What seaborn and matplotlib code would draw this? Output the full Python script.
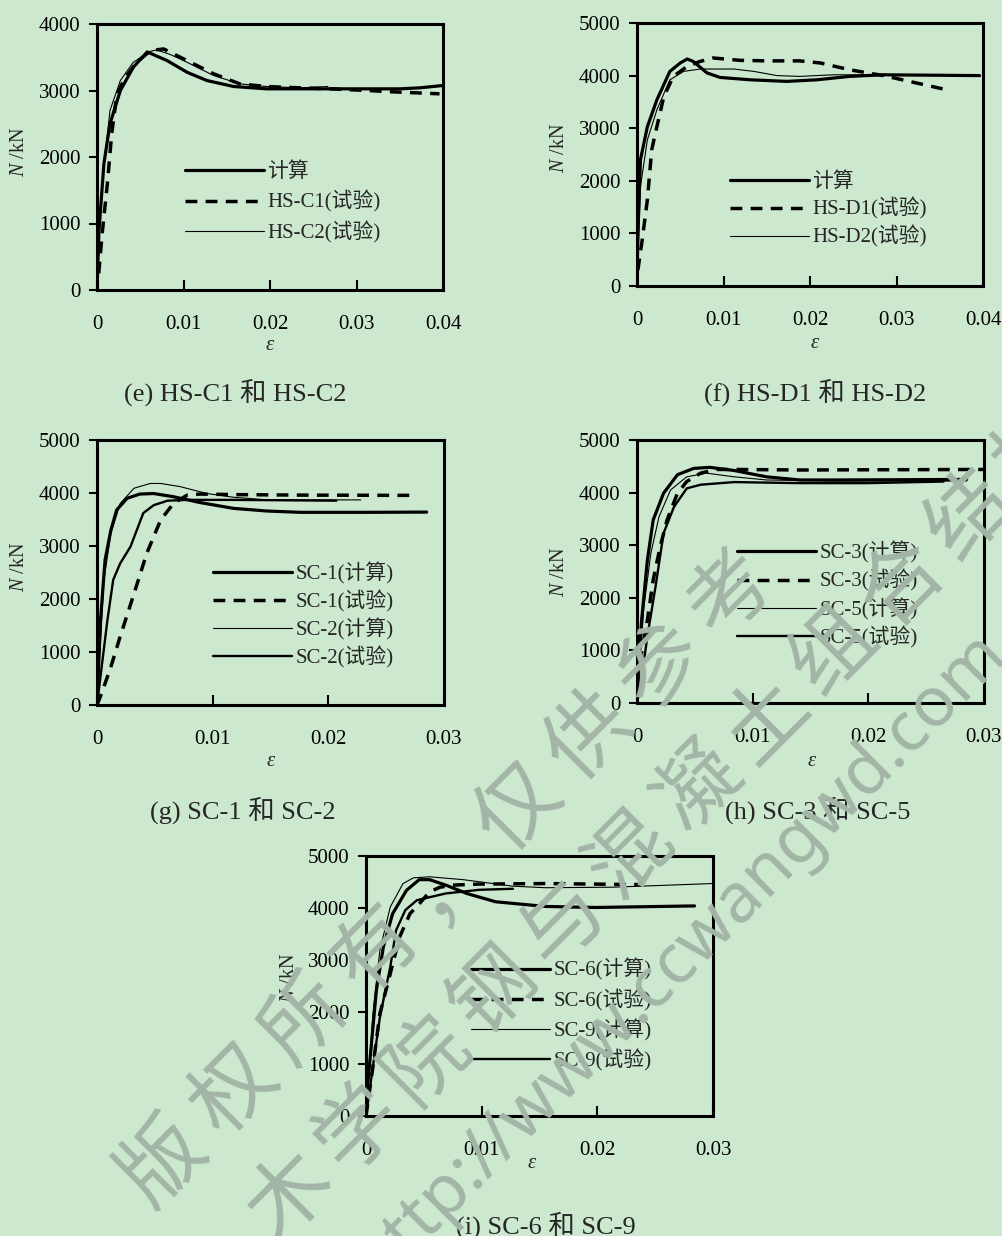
import numpy as np
import pandas as pd
import matplotlib
matplotlib.use("Agg")
import matplotlib.pyplot as plt
import seaborn as sns

sns.set_style("white")
plt.rcParams['font.family'] = ['Liberation Serif', 'Noto Sans CJK SC', 'DejaVu Sans']
plt.rcParams['mathtext.fontset'] = 'custom'
plt.rcParams['mathtext.rm'] = 'Liberation Serif'
plt.rcParams['mathtext.it'] = 'Liberation Serif:italic'

BG = '#CCE8CF'
W, H = 1002, 1236

# ---------------- data ----------------
# (e) HS-C1 / HS-C2
e_calc_x = [0, 0.00023, 0.0008, 0.0015, 0.0027, 0.0042, 0.0058, 0.0081, 0.0104, 0.0127, 0.0158, 0.0196, 0.0235, 0.0273, 0.035, 0.0373, 0.04]
e_calc_y = [0, 900, 1900, 2500, 3000, 3350, 3580, 3450, 3275, 3150, 3060, 3025, 3025, 3025, 3025, 3040, 3075]
e_c1_x = [0.0002, 0.0006, 0.0012, 0.0017, 0.0023, 0.0033, 0.0046, 0.0062, 0.0077, 0.0104, 0.0135, 0.0165, 0.0196, 0.0235, 0.027, 0.0312, 0.035, 0.0396]
e_c1_y = [250, 850, 1600, 2350, 2950, 3200, 3425, 3600, 3625, 3450, 3250, 3100, 3060, 3040, 3025, 3000, 2975, 2950]
e_c2_x = [0, 0.0003, 0.0008, 0.0015, 0.0027, 0.0042, 0.0062, 0.0069, 0.0085, 0.0104, 0.0135, 0.0165, 0.0196, 0.0235, 0.0267]
e_c2_y = [0, 1100, 1850, 2700, 3150, 3425, 3590, 3610, 3540, 3425, 3225, 3100, 3060, 3040, 3060]

# (f) HS-D1 / HS-D2
f_calc_x = [0, 0.0001, 0.0004, 0.0012, 0.0023, 0.0038, 0.005, 0.0058, 0.0065, 0.0081, 0.0096, 0.0131, 0.0173, 0.0208, 0.0246, 0.0285, 0.0396]
f_calc_y = [0, 1000, 2400, 3030, 3540, 4080, 4240, 4315, 4270, 4050, 3965, 3920, 3890, 3920, 3985, 4015, 4000]
f_d1_x = [0.0001, 0.0006, 0.0012, 0.0017, 0.0023, 0.0031, 0.0042, 0.0058, 0.0073, 0.0088, 0.0119, 0.015, 0.0188, 0.0212, 0.0246, 0.0285, 0.0323, 0.0358]
f_d1_y = [300, 875, 1640, 2590, 3030, 3600, 3985, 4175, 4270, 4335, 4290, 4280, 4280, 4240, 4110, 4000, 3860, 3730]
f_d2_x = [0, 0.0004, 0.0012, 0.0023, 0.0038, 0.0054, 0.0073, 0.0112, 0.0135, 0.0162, 0.0188, 0.0227, 0.0265, 0.0285]
f_d2_y = [0, 1890, 2780, 3350, 3920, 4080, 4125, 4125, 4080, 4000, 3985, 4015, 4015, 4015]

# (g) SC-1 / SC-2
g_1c_x = [0, 0.0003, 0.0007, 0.0012, 0.0017, 0.0026, 0.0037, 0.0049, 0.0066, 0.0089, 0.0118, 0.0147, 0.0176, 0.0205, 0.0233, 0.0285]
g_1c_y = [0, 1600, 2740, 3300, 3680, 3900, 3980, 3990, 3930, 3820, 3710, 3660, 3635, 3635, 3635, 3640]
g_1t_x = [0, 0.0004, 0.0012, 0.002, 0.0032, 0.0043, 0.0055, 0.0066, 0.0078, 0.0089, 0.0118, 0.0176, 0.0274]
g_1t_y = [0, 220, 720, 1290, 2100, 2860, 3490, 3800, 3960, 3980, 3970, 3960, 3955]
g_2c_x = [0, 0.0006, 0.0012, 0.002, 0.0032, 0.0046, 0.0055, 0.0072, 0.0095, 0.0118, 0.0147, 0.0228]
g_2c_y = [0, 2360, 3240, 3800, 4090, 4180, 4180, 4120, 3990, 3920, 3870, 3870]
g_2t_x = [0, 0.0009, 0.0014, 0.002, 0.0029, 0.004, 0.0049, 0.0061, 0.0078, 0.0118, 0.0207]
g_2t_y = [0, 1600, 2360, 2670, 2990, 3620, 3770, 3855, 3870, 3870, 3855]

# (h) SC-3 / SC-5
h_3c_x = [0, 0.0001, 0.0004, 0.0009, 0.0014, 0.0023, 0.0035, 0.0049, 0.0063, 0.0084, 0.0112, 0.0141, 0.017, 0.0285]
h_3c_y = [0, 630, 1580, 2720, 3480, 3990, 4340, 4460, 4480, 4420, 4300, 4240, 4240, 4250]
h_3t_x = [0, 0.0001, 0.0004, 0.0009, 0.0014, 0.002, 0.0026, 0.0035, 0.0043, 0.0055, 0.0069, 0.0084, 0.0141, 0.03]
h_3t_y = [0, 440, 950, 1580, 2340, 2970, 3480, 3990, 4210, 4370, 4440, 4440, 4430, 4440]
h_5c_x = [0, 0.0006, 0.0012, 0.0019, 0.0029, 0.0043, 0.006, 0.0084, 0.0112, 0.017, 0.0285]
h_5c_y = [0, 1830, 2850, 3540, 4050, 4300, 4370, 4300, 4240, 4220, 4220]
h_5t_x = [0, 0.0003, 0.0009, 0.0016, 0.0023, 0.0032, 0.0043, 0.0055, 0.0084, 0.0141, 0.0199, 0.0265]
h_5t_y = [0, 320, 1270, 2210, 3230, 3730, 4080, 4150, 4200, 4180, 4180, 4210]

# (i) SC-6 / SC-9
i_6c_x = [0, 0.0001, 0.0005, 0.0009, 0.0015, 0.0023, 0.0035, 0.0046, 0.0055, 0.0069, 0.0087, 0.0112, 0.0155, 0.0198, 0.0284]
i_6c_y = [0, 500, 1460, 2420, 3250, 3890, 4340, 4545, 4545, 4440, 4280, 4120, 4030, 4010, 4040]
i_6t_x = [0, 0.0006, 0.0012, 0.0021, 0.0029, 0.0038, 0.0046, 0.0055, 0.0064, 0.0075, 0.0098, 0.0155, 0.0238]
i_6t_y = [0, 950, 1970, 2740, 3440, 3890, 4080, 4310, 4400, 4440, 4460, 4470, 4450]
i_9c_x = [0, 0.0006, 0.0012, 0.0021, 0.0032, 0.0041, 0.0055, 0.0084, 0.0127, 0.0155, 0.0213, 0.0299]
i_9c_y = [0, 1970, 3190, 4020, 4470, 4580, 4600, 4545, 4420, 4390, 4400, 4470]
i_9t_x = [0, 0.0006, 0.0012, 0.0021, 0.0026, 0.0034, 0.0044, 0.0069, 0.0098, 0.0127]
i_9t_y = [0, 950, 1900, 2870, 3570, 3960, 4150, 4280, 4350, 4370]

xticks_4 = [0, 0.01, 0.02, 0.03, 0.04]
xticklabels_4 = ['0', '0.01', '0.02', '0.03', '0.04']
xticks_3 = [0, 0.01, 0.02, 0.03]
xticklabels_3 = ['0', '0.01', '0.02', '0.03']
yticks_4 = [0, 1000, 2000, 3000, 4000]
yticks_5 = [0, 1000, 2000, 3000, 4000, 5000]

captions = ['(e) HS-C1 和 HS-C2', '(f) HS-D1 和 HS-D2', '(g) SC-1 和 SC-2',
            '(h) SC-3 和 SC-5', '(i) SC-6 和 SC-9']

wm_line1 = '版权所有，仅供参考'
wm_line2 = '木学院钢与混凝土组合结构'
wm_line3 = 'http://www.ccwangwd.com'

# ---------------- styles ----------------
STY = {
    'thick': dict(lw=2.3, ls='-'),
    'dash': dict(lw=2.5, ls=(0, (3.4, 2.4))),
    'thin': dict(lw=0.8, ls='-'),
    'mid': dict(lw=1.7, ls='-'),
}

panels = [
    dict(box=(97, 24, 443, 290), xlim=0.04, ylim=4000, xt=xticks_4, xtl=xticklabels_4, yt=yticks_4,
         series=[(e_calc_x, e_calc_y, '计算', 'thick'), (e_c1_x, e_c1_y, 'HS-C1(试验)', 'dash'),
                 (e_c2_x, e_c2_y, 'HS-C2(试验)', 'thin')],
         leg=(185, 203), ls=0.42, ylab=(20, 152), xlab=(270, 345), cap=(235, 392)),
    dict(box=(637, 23, 983, 286), xlim=0.04, ylim=5000, xt=xticks_4, xtl=xticklabels_4, yt=yticks_5,
         series=[(f_calc_x, f_calc_y, '计算', 'thick'), (f_d1_x, f_d1_y, 'HS-D1(试验)', 'dash'),
                 (f_d2_x, f_d2_y, 'HS-D2(试验)', 'thin')],
         leg=(730, 210), ls=0.28, ylab=(560, 148), xlab=(815, 343), cap=(815, 392)),
    dict(box=(97, 440, 444, 705), xlim=0.03, ylim=5000, xt=xticks_3, xtl=xticklabels_3, yt=yticks_5,
         series=[(g_1c_x, g_1c_y, 'SC-1(计算)', 'thick'), (g_1t_x, g_1t_y, 'SC-1(试验)', 'dash'),
                 (g_2c_x, g_2c_y, 'SC-2(计算)', 'thin'), (g_2t_x, g_2t_y, 'SC-2(试验)', 'mid')],
         leg=(213, 615), ls=0.28, ylab=(20, 567), xlab=(271, 762), cap=(243, 810)),
    dict(box=(637, 440, 984, 703), xlim=0.03, ylim=5000, xt=xticks_3, xtl=xticklabels_3, yt=yticks_5,
         series=[(h_3c_x, h_3c_y, 'SC-3(计算)', 'thick'), (h_3t_x, h_3t_y, 'SC-3(试验)', 'dash'),
                 (h_5c_x, h_5c_y, 'SC-5(计算)', 'thin'), (h_5t_x, h_5t_y, 'SC-5(试验)', 'mid')],
         leg=(737, 595), ls=0.30, ylab=(560, 572), xlab=(812, 762), cap=(818, 810)),
    dict(box=(366, 856, 713, 1116), xlim=0.03, ylim=5000, xt=xticks_3, xtl=xticklabels_3, yt=yticks_5,
         series=[(i_6c_x, i_6c_y, 'SC-6(计算)', 'thick'), (i_6t_x, i_6t_y, 'SC-6(试验)', 'dash'),
                 (i_9c_x, i_9c_y, 'SC-9(计算)', 'thin'), (i_9t_x, i_9t_y, 'SC-9(试验)', 'mid')],
         leg=(471, 1015), ls=0.38, ylab=(290, 978), xlab=(532, 1163), cap=(546, 1225)),
]

fig = plt.figure(figsize=(W / 100, H / 100), dpi=100, facecolor=BG)

for k, p in enumerate(panels):
    l, t, r, b = p['box']
    ax = fig.add_axes([l / W, 1 - b / H, (r - l) / W, (b - t) / H])
    ax.set_facecolor(BG)
    handles = []
    for xs, ys, lab, st in p['series']:
        df = pd.DataFrame({'x': xs, 'y': ys})
        sns.lineplot(data=df, x='x', y='y', ax=ax, sort=False, estimator=None,
                     color='black', linewidth=STY[st]['lw'], linestyle=STY[st]['ls'],
                     label=lab, legend=False)
        handles.append(ax.get_lines()[-1])
    ax.set_xlim(0, p['xlim'])
    ax.set_ylim(0, p['ylim'])
    ax.set_xticks(p['xt'])
    ax.set_xticklabels(p['xtl'])
    ax.set_yticks(p['yt'])
    ax.set_yticklabels([str(v) for v in p['yt']])
    ax.tick_params(axis='x', direction='in', length=7, width=1.5, pad=18, labelsize=15,
                   bottom=True, colors='black')
    ax.tick_params(axis='y', direction='out', length=6, width=1.5, pad=6, labelsize=15,
                   left=True, colors='black')
    for sp in ax.spines.values():
        sp.set_visible(True)
        sp.set_linewidth(2.2)
        sp.set_color('black')
    # axis labels
    ax.set_xlabel(r'$\varepsilon$', fontsize=15)
    ax.set_ylabel(r'$N$ /kN', fontsize=14.5)
    xl, yl = p['xlab']
    ax.xaxis.set_label_coords((xl - l) / (r - l), (b - yl) / (b - t))
    ax.xaxis.label.set_va('center')
    xl, yl = p['ylab']
    ax.yaxis.set_label_coords((xl - l) / (r - l), (b - yl) / (b - t))
    ax.yaxis.label.set_va('center')
    # legend
    lx, ly = p['leg']
    leg = ax.legend(handles=handles, labels=[s[2] for s in p['series']],
                    loc='center left', bbox_to_anchor=((lx - l) / (r - l), (b - ly) / (b - t)),
                    frameon=False, fontsize=15, handlelength=3.8, handletextpad=0.15,
                    labelspacing=p['ls'], borderpad=0, borderaxespad=0)
    # caption
    cx, cy = p['cap']
    fig.text(cx / W, 1 - cy / H, captions[k], ha='center', va='center', fontsize=19)

# ---------------- watermark ----------------
WM = '#a3b5a7'
ang = 45
def wm_chars(text, x0, y0, step):
    for j, ch in enumerate(text):
        x = x0 + j * step
        y = y0 - j * step
        fig.text(x / W, 1 - y / H, ch, rotation=ang, rotation_mode='anchor',
                 ha='center', va='center', fontsize=60, color=WM,
                 family=['Noto Sans CJK SC'], zorder=10)

wm_chars(wm_line1, 163, 1162, 71)
wm_chars(wm_line2, 290, 1195, 68)
fig.text(995 / W, 1 - 642 / H, wm_line3, rotation=ang, rotation_mode='anchor',
         ha='right', va='center', fontsize=50, color=WM, family=['Noto Sans'], zorder=10)

fig.savefig('out.png', dpi=100, facecolor=BG)
